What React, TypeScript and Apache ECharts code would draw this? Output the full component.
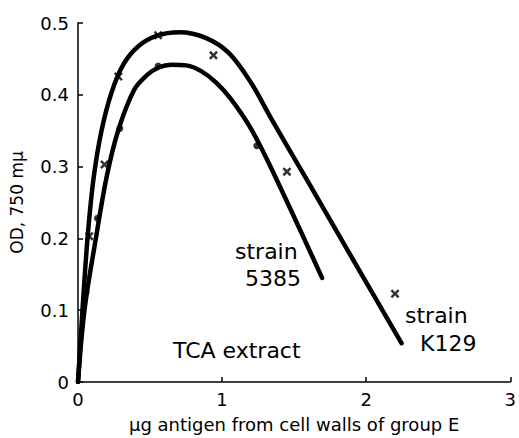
import React, { useEffect, useRef } from "react";
import * as echarts from "echarts";

const xTickValues = [0, 1, 2, 3];
const yTickValues = [0, 0.1, 0.2, 0.3, 0.4, 0.5];

// measured points (crosses) strain K129
const k129X = [0.078, 0.184, 0.28, 0.556, 0.94, 1.45, 2.2];
const k129Y = [0.203, 0.303, 0.4255, 0.483, 0.455, 0.293, 0.123];
// measured points (dots) strain 5385
const s5385X = [0.055, 0.135, 0.29, 0.556, 1.241];
const s5385Y = [0.125, 0.228, 0.353, 0.44, 0.329];

// fitted curves
const k129CurveX = [0, 0.031, 0.066, 0.107, 0.162, 0.234, 0.317, 0.421, 0.545, 0.703, 0.89, 1.048, 1.2, 1.338, 1.59, 1.959, 2.245];
const k129CurveY = [0, 0.1, 0.2, 0.282, 0.349, 0.404, 0.443, 0.468, 0.482, 0.487, 0.479, 0.458, 0.417, 0.368, 0.281, 0.153, 0.054];
const s5385CurveX = [0, 0.045, 0.124, 0.2, 0.28, 0.39, 0.476, 0.559, 0.648, 0.752, 0.855, 0.959, 1.062, 1.2, 1.338, 1.694];
const s5385CurveY = [0, 0.1, 0.2, 0.287, 0.351, 0.407, 0.427, 0.438, 0.442, 0.441, 0.433, 0.417, 0.394, 0.353, 0.299, 0.145];

const FONT = "DejaVu Sans";
const crossPath = "path://M0,2L2,0L5,3L8,0L10,2L7,5L10,8L8,10L5,7L2,10L0,8L3,5Z";

const zip = (xs: number[], ys: number[]) => xs.map((x, i) => [x, ys[i]]);

export default function App() {
  const ref = useRef<HTMLDivElement>(null);
  useEffect(() => {
    document.body.style.margin = "0";
    const chart = echarts.init(ref.current!, null, { renderer: "svg" });
    const axisCommon = {
      axisLine: { show: true, lineStyle: { color: "#000", width: 1.5 } },
      axisTick: { show: true, inside: true, length: 5, lineStyle: { color: "#000", width: 1.5 } },
      splitLine: { show: false },
    };
    const curveStyle = { color: "#000", width: 4.5, cap: "round" as const, join: "round" as const };
    chart.setOption({
      animation: false,
      backgroundColor: "#fff",
      grid: { left: 76, right: 8, top: 23, bottom: 55 },
      xAxis: {
        type: "value",
        min: xTickValues[0],
        max: xTickValues[xTickValues.length - 1],
        interval: 1,
        ...axisCommon,
        axisLabel: { color: "#000", fontSize: 18, fontFamily: FONT, margin: 8 },
        name: "μg antigen from cell walls of group E",
        nameLocation: "middle",
        nameGap: 33,
        nameTextStyle: { color: "#000", fontSize: 18, fontFamily: FONT },
      },
      yAxis: {
        type: "value",
        min: yTickValues[0],
        max: yTickValues[yTickValues.length - 1],
        interval: 0.1,
        ...axisCommon,
        axisLabel: {
          color: "#000",
          fontSize: 18,
          fontFamily: FONT,
          margin: 9,
          formatter: (v: number) => (v === 0 ? "0" : v.toFixed(1)),
        },
        name: "OD, 750 mμ",
        nameLocation: "middle",
        nameGap: 53,
        nameTextStyle: { color: "#000", fontSize: 17, fontFamily: FONT },
      },
      series: [
        {
          type: "line",
          data: zip(k129CurveX, k129CurveY),
          smooth: 0.35,
          showSymbol: false,
          symbol: "none",
          lineStyle: curveStyle,
          z: 2,
        },
        {
          type: "line",
          data: zip(s5385CurveX, s5385CurveY),
          smooth: 0.35,
          showSymbol: false,
          symbol: "none",
          lineStyle: curveStyle,
          z: 2,
        },
        {
          type: "scatter",
          data: zip(k129X, k129Y),
          symbol: crossPath,
          symbolSize: 9,
          itemStyle: { color: "#000" },
          z: 3,
        },
        {
          type: "scatter",
          data: zip(s5385X, s5385Y),
          symbol: "circle",
          symbolSize: 7,
          itemStyle: { color: "#000" },
          z: 3,
        },
      ],
      graphic: [
        { type: "text", left: 235, top: 240, style: { text: "strain", fontSize: 22, fontFamily: FONT, fill: "#000" } },
        { type: "text", left: 245, top: 267, style: { text: "5385", fontSize: 22, fontFamily: FONT, fill: "#000" } },
        { type: "text", left: 173, top: 339, style: { text: "TCA extract", fontSize: 22, fontFamily: FONT, fill: "#000" } },
        { type: "text", left: 405, top: 304, style: { text: "strain", fontSize: 22, fontFamily: FONT, fill: "#000" } },
        { type: "text", left: 420, top: 332, style: { text: "K129", fontSize: 22, fontFamily: FONT, fill: "#000" } },
      ],
    });
    return () => chart.dispose();
  }, []);
  return <div ref={ref} style={{ width: 519, height: 438 }} />;
}
